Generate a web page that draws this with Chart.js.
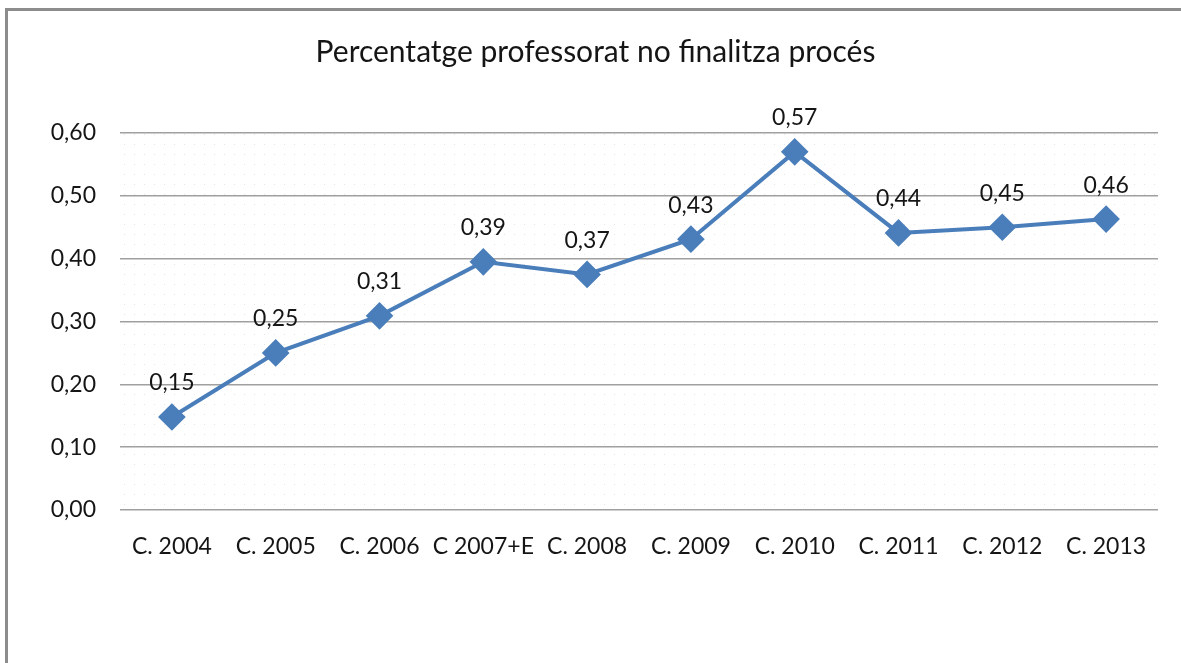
<!DOCTYPE html>
<html>
<head>
<meta charset="utf-8">
<script src="https://cdn.jsdelivr.net/npm/chart.js@4"></script>
<style>
  html, body { margin: 0; padding: 0; background: #fff; }
  #wrap { position: relative; width: 1181px; height: 663px; }
  #frame {
    position: absolute; left: 5px; top: 8px; right: -10px; bottom: -10px;
    border-left: 3px solid #8c8c8c; border-top: 3px solid #8c8c8c;
    pointer-events: none;
  }
</style>
</head>
<body>
<div id="wrap">
  <canvas id="chart" width="1181" height="663"></canvas>
  <div id="frame"></div>
</div>
<script>
  // Chart data
  const chartTitle = 'Percentatge professorat no finalitza procés';
  const categories = ['C. 2004', 'C. 2005', 'C. 2006', 'C 2007+E', 'C. 2008',
                      'C. 2009', 'C. 2010', 'C. 2011', 'C. 2012', 'C. 2013'];
  const values = [0.148, 0.25, 0.309, 0.395, 0.375, 0.431, 0.57, 0.441, 0.45, 0.463];
  const valueLabels = ['0,15', '0,25', '0,31', '0,39', '0,37', '0,43', '0,57', '0,44', '0,45', '0,46'];

  const FONT = 'Lato, "Liberation Sans", sans-serif';
  const TEXT = '#151515';

  // Light dotted fill behind the plot area
  function dotPattern(ctx) {
    const c = document.createElement('canvas');
    c.width = 10; c.height = 10;
    const p = c.getContext('2d');
    p.fillStyle = '#e4e4e4';
    p.fillRect(4, 4, 1, 1);
    return ctx.createPattern(c, 'repeat');
  }

  const plotBackground = {
    id: 'plotBackground',
    beforeDraw(chart) {
      const { ctx, chartArea: a } = chart;
      ctx.save();
      ctx.fillStyle = dotPattern(ctx);
      ctx.fillRect(a.left, a.top, a.right - a.left, a.bottom - a.top);
      ctx.restore();
    }
  };

  // Title centred on the whole canvas (the built-in one is pulled left by the padding)
  const canvasTitle = {
    id: 'canvasTitle',
    afterDraw(chart) {
      const { ctx } = chart;
      ctx.save();
      ctx.font = '30px ' + FONT;
      ctx.fillStyle = TEXT;
      ctx.textAlign = 'center';
      ctx.textBaseline = 'middle';
      ctx.fillText(chartTitle, chart.width / 2 + 5, 52);
      ctx.restore();
    }
  };

  // Value labels above each point
  const pointLabels = {
    id: 'pointLabels',
    afterDatasetsDraw(chart) {
      const { ctx } = chart;
      const meta = chart.getDatasetMeta(0);
      ctx.save();
      ctx.font = '23px ' + FONT;
      ctx.fillStyle = TEXT;
      ctx.textAlign = 'center';
      ctx.textBaseline = 'middle';
      meta.data.forEach((pt, i) => {
        ctx.fillText(valueLabels[i], pt.x, pt.y - 34);
      });
      ctx.restore();
    }
  };

  new Chart(document.getElementById('chart'), {
    type: 'line',
    data: {
      labels: categories,
      datasets: [{
        data: values,
        borderColor: '#4a7ebb',
        backgroundColor: '#4a7ebb',
        borderWidth: 4,
        pointStyle: 'rectRot',
        pointRadius: 11,
        pointHoverRadius: 11,
        tension: 0
      }]
    },
    options: {
      responsive: false,
      animation: false,
      layout: { padding: { left: 0, right: 23, top: 133, bottom: 0 } },
      plugins: {
        legend: { display: false },
        tooltip: { enabled: false },
        title: { display: false }
      },
      scales: {
        x: {
          offset: true,
          grid: { display: false },
          border: { display: false },
          ticks: {
            color: TEXT,
            font: { family: FONT, size: 23 },
            padding: 15,
            maxRotation: 0,
            autoSkip: false
          },
          afterFit(scale) { scale.height = 153; }
        },
        y: {
          min: 0,
          max: 0.6,
          grid: { color: '#a0a0a0', lineWidth: 1.5, drawTicks: false },
          border: { display: false },
          ticks: {
            stepSize: 0.1,
            color: TEXT,
            font: { family: FONT, size: 23 },
            padding: 24,
            callback: v => v.toFixed(2).replace('.', ',')
          },
          afterFit(scale) { scale.width = 120; }
        }
      }
    },
    plugins: [plotBackground, pointLabels, canvasTitle]
  });
</script>
</body>
</html>
